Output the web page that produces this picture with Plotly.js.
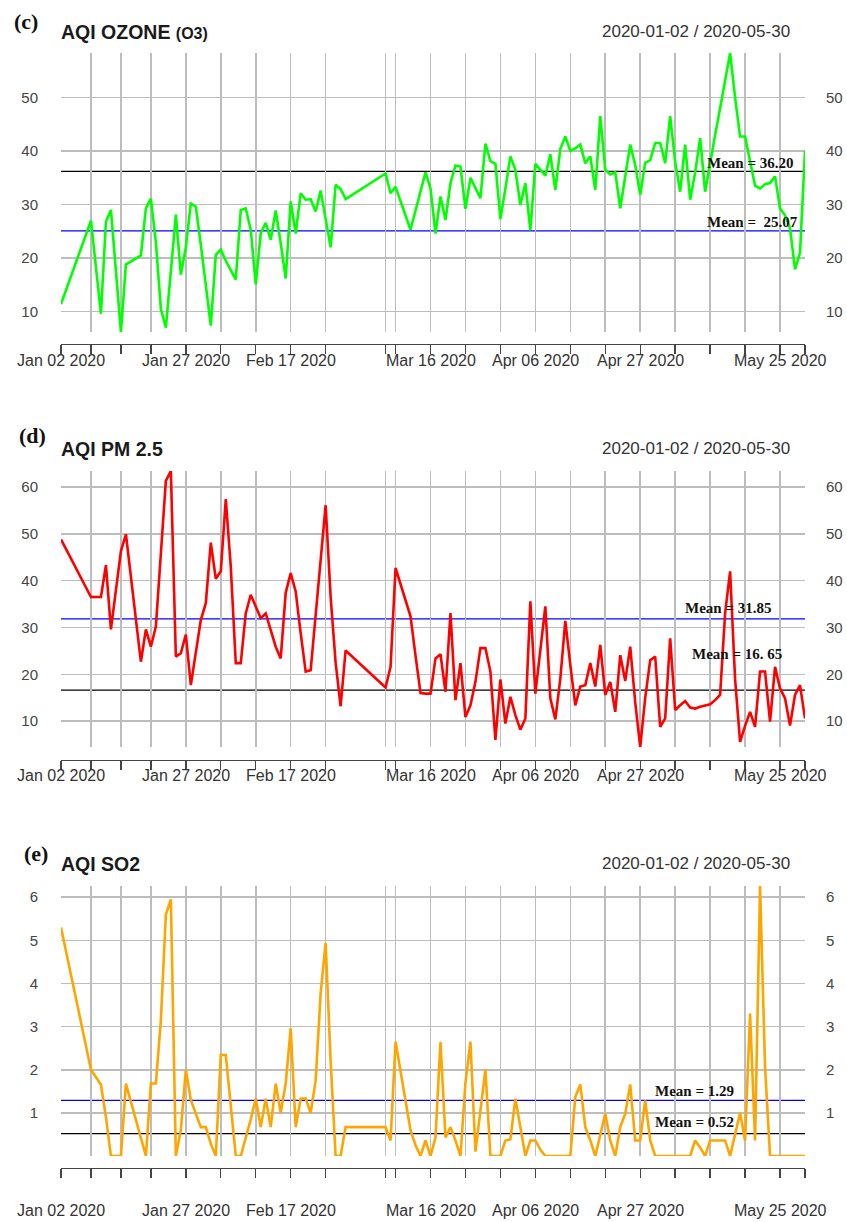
<!DOCTYPE html>
<html><head><meta charset="utf-8">
<script src="https://cdn.plot.ly/plotly-3.0.1.min.js"></script>
<style>html,body{margin:0;padding:0;background:#fff}</style>
</head><body><div id="chart" style="width:847px;height:1222px"></div>
<script>
// ---------------- DATA ----------------
const dates = [
 '2020-01-02','2020-01-08','2020-01-10','2020-01-11','2020-01-12','2020-01-14','2020-01-15',
 '2020-01-18','2020-01-19','2020-01-20','2020-01-21','2020-01-22','2020-01-23','2020-01-24',
 '2020-01-25','2020-01-26','2020-01-27','2020-01-28','2020-01-29','2020-01-30','2020-01-31',
 '2020-02-01','2020-02-02','2020-02-03','2020-02-04','2020-02-05','2020-02-06','2020-02-07',
 '2020-02-08','2020-02-09','2020-02-10','2020-02-11','2020-02-12','2020-02-13','2020-02-14',
 '2020-02-15','2020-02-16','2020-02-17','2020-02-18','2020-02-19','2020-02-20','2020-02-21',
 '2020-02-22','2020-02-23','2020-02-24','2020-02-25','2020-02-26','2020-02-27','2020-02-28',
 '2020-03-07','2020-03-08','2020-03-09',
 '2020-03-12','2020-03-13','2020-03-14','2020-03-15','2020-03-16','2020-03-17','2020-03-18',
 '2020-03-19','2020-03-20','2020-03-21','2020-03-22','2020-03-23','2020-03-24','2020-03-25',
 '2020-03-26','2020-03-27','2020-03-28','2020-03-29','2020-03-30','2020-03-31',
 '2020-04-01','2020-04-02','2020-04-03','2020-04-04','2020-04-05','2020-04-06','2020-04-07',
 '2020-04-08','2020-04-09','2020-04-10','2020-04-11','2020-04-12','2020-04-13','2020-04-14',
 '2020-04-15','2020-04-16','2020-04-17','2020-04-18','2020-04-19','2020-04-20','2020-04-21',
 '2020-04-22','2020-04-23','2020-04-24','2020-04-25','2020-04-26','2020-04-27','2020-04-28',
 '2020-04-29','2020-04-30',
 '2020-05-01','2020-05-02','2020-05-03','2020-05-04','2020-05-05','2020-05-06','2020-05-07',
 '2020-05-08','2020-05-09','2020-05-10','2020-05-11','2020-05-12','2020-05-13','2020-05-14',
 '2020-05-15','2020-05-16','2020-05-17','2020-05-18','2020-05-19','2020-05-20','2020-05-21',
 '2020-05-22','2020-05-23','2020-05-24','2020-05-25','2020-05-26','2020-05-27','2020-05-28',
 '2020-05-29','2020-05-30'
];

const ozone = [
 11.4,27.0,9.6,26.8,29.0,6.2,18.8,20.5,29.3,31.1,23,10.5,7.0,18,28.1,16.9,22,30.2,29.6,22.5,15,
 7.4,20.6,21.6,19.5,17.8,16.0,29.0,29.3,25.3,15.1,24.6,26.6,23.4,28.9,22.8,16.2,30.6,24.6,32.1,30.9,31.0,28.7,32.6,27.1,22.0,33.7,32.9,31.0,
 35.8,32.1,33.3,25.3,29,32.5,36,33,24.6,31.5,27.1,34,37.3,37.1,29.2,35,33,31.2,41.4,38.1,37.6,27.3,33,
 39,36.5,29.9,34,25.2,37.6,36.5,35.4,39.4,32.7,40.4,42.7,40,40.5,41.2,37.7,39,32.7,46.5,36.5,35.6,36,29.3,35,41.2,37.4,31.8,37.8,38.3,41.5,
 41.5,37.7,46.5,38,32.4,41.2,30.9,36,42.4,32.4,38,43,48,53,58.3,50,42.7,42.7,38.2,33.5,33,33.8,34,35.3,29.3,28,25.6,17.9,21,40
];

const pm25 = [
 48.8,36.5,36.5,43.3,29.6,46.3,49.9,22.7,29.6,25.9,30.2,45.9,61.3,63.4,23.8,24.5,28.5,17.7,24.5,31.6,35.2,
 48.1,40.4,42,57.4,43,22.4,22.4,33,37,34.5,32,33,29.5,25.9,23.4,37.4,41.6,37.7,28.8,20.6,20.9,32.4,43,56.1,36.5,22.5,13.2,25.1,
 17.2,21.6,42.7,32.4,24,16,15.9,15.9,23.4,24.3,16.3,33.1,14.5,22.4,10.9,13.4,18.4,25.6,25.6,20.6,6,18.9,9.5,
 15.2,11.3,8.2,10.6,35.6,15.9,24.9,34.5,14.9,10.4,19.1,31.4,22,13.4,17.4,17.7,22.4,17.4,26.3,15.6,18.4,12,24.1,18.6,25.9,14,4.5,15,23,23.8,
 8.8,10.6,27.7,12.4,13.4,14.3,12.9,12.7,13.1,13.3,13.6,14.5,15.6,33,42,19,5.6,9,12,8.8,20.6,20.6,9.9,21.6,17,14.9,9.1,15.6,17.7,10.6
];

const so2 = [
 5.3,2.0,1.65,0.9,0,0,1.68,0.4,0,1.68,1.68,3.15,5.6,5.95,0,0.6,2.0,1.3,1.0,0.67,0.67,
 0.28,0,2.34,2.34,1.2,0,0,0.4,0.85,1.33,0.67,1.33,0.67,1.68,1.0,1.68,2.96,0.67,1.33,1.33,1.0,1.75,3.77,4.94,2.2,0,0,0.67,
 0.67,0.36,2.65,0.6,0.25,0,0.36,0,0.43,2.65,0.43,0.67,0.36,0,1.7,2.65,0.1,1.05,2.0,0,0,0,0.36,
 0.39,1.33,0.67,0,0.36,0.36,0.15,0,0,0,0,0,0,1.37,1.66,0.67,0.36,0,0.5,0.98,0.36,0,0.67,0.98,1.66,0.36,0.36,1.29,0.36,0,
 0,0,0,0,0,0,0,0.36,0.2,0,0.36,0.36,0.36,0.36,0,0.5,1.0,0.36,3.3,0.36,6.26,2.06,0,0,0,0,0,0,0,0
];

const gridDates = ['2020-01-02','2020-01-08','2020-01-14','2020-01-20','2020-01-27','2020-02-03','2020-02-10',
 '2020-02-17','2020-02-24','2020-03-07','2020-03-09','2020-03-16','2020-03-23','2020-03-30','2020-04-06',
 '2020-04-13','2020-04-20','2020-04-27','2020-05-04','2020-05-11','2020-05-18','2020-05-25','2020-05-30'];
const gridLabels = ['Jan 02 2020','','','','Jan 27 2020','','','Feb 17 2020','','','','Mar 16 2020','','',
 'Apr 06 2020','','','Apr 27 2020','','','','May 25 2020',''];

const ozoneTicks = [10,20,30,40,50];
const pm25Ticks = [10,20,30,40,50,60];
const so2Ticks = [1,2,3,4,5,6];

const ozoneMeans = [36.20, 25.07];
const pm25Means = [31.85, 16.65];
const so2Means = [1.29, 0.52];
const ozoneMeanLabels = ['Mean = 36.20', 'Mean =&nbsp; 25.07'];
const pm25MeanLabels = ['Mean = 31.85', 'Mean = 16. 65'];
const so2MeanLabels = ['Mean = 1.29', 'Mean = 0.52'];

const panelLetters = ['(c)', '(d)', '(e)'];
const panelTitles = ['AQI OZONE <span style="font-size:16px">(O3)</span>', 'AQI PM 2.5', 'AQI SO2'];
const periodText = '2020-01-02 / 2020-05-30';

// ---------------- LAYOUT HELPERS ----------------
const H = 1222, L = 61, R = 805;
const py = p => (H - p) / H;
const pxx = p => (p - L) / (R - L);
const SANS = 'Liberation Sans, Arial, sans-serif';
const SERIF = 'Liberation Serif, Times New Roman, serif';
const GRID = '#bdbdbd';

const panels = [
 {values: ozone, ticks: ozoneTicks, color: '#00ff00', top: 53, bottom: 332, axisY: 344, labelY: 360,
  means: ozoneMeans, meanColors: ['#000000', '#0000ff'], meanLabels: ozoneMeanLabels,
  meanPos: [[750, 163], [752, 222]], letterPos: [12, 22], titleY: 32, periodY: 31, minorY: 337},
 {values: pm25, ticks: pm25Ticks, color: '#ff0000', top: 471, bottom: 747, axisY: 760, labelY: 775,
  means: pm25Means, meanColors: ['#0000ff', '#000000'], meanLabels: pm25MeanLabels,
  meanPos: [[728, 608], [737, 654]], letterPos: [17, 436], titleY: 448.5, periodY: 448.5, minorY: 752},
 {values: so2, ticks: so2Ticks, color: '#ffa500', top: 886, bottom: 1156, axisY: 1168, labelY: 1210,
  means: so2Means, meanColors: ['#0000ff', '#000000'], meanLabels: so2MeanLabels,
  meanPos: [[694, 1091], [694, 1122]], letterPos: [22, 853], titleY: 863.5, periodY: 863.5, minorY: 1162}
];

const traces = [];
const layout = {
 width: 847, height: 1222, margin: {l: L, r: 847 - R, t: 0, b: 0},
 paper_bgcolor: '#fff', plot_bgcolor: '#fff', showlegend: false,
 font: {family: SANS, color: '#333'},
 shapes: [], annotations: []
};

panels.forEach((p, i) => {
 const n = i + 1;
 const xa = n === 1 ? 'x' : 'x' + n;
 const ya = n === 1 ? 'y' : 'y' + n;
 const yr = 'y' + (n + 3);
 const lo = Math.min(...p.values), hi = Math.max(...p.values);
 const dom = [py(p.bottom), py(p.top)];
 const pxPerUnit = (p.bottom - p.top) / (hi - lo);

 layout['xaxis' + (n === 1 ? '' : n)] = {
  type: 'date', range: [dates[0], dates[dates.length - 1]], domain: [0, 1],
  anchor: 'free', position: py(p.axisY),
  tickmode: 'array', tickvals: gridDates, ticktext: gridDates.map(() => ''),
  showgrid: true, gridcolor: GRID, gridwidth: 1.6,
  ticks: 'outside', ticklen: 9, tickwidth: 1.4, tickcolor: '#444',
  showline: true, linecolor: '#444', linewidth: 1.4,
  showticklabels: false, zeroline: false, fixedrange: true
 };
 layout['yaxis' + (n === 1 ? '' : n)] = {
  domain: dom, range: [lo, hi], anchor: xa, side: 'left',
  tickmode: 'array', tickvals: p.ticks, showgrid: true, gridcolor: GRID, gridwidth: 1.6,
  ticks: '', showline: false, zeroline: false, ticklabelstandoff: 22,
  tickfont: {size: 15, color: '#444', family: SANS}, fixedrange: true
 };
 layout['yaxis' + (n + 3)] = {
  overlaying: ya, anchor: xa, side: 'right', range: [lo, hi],
  tickmode: 'array', tickvals: p.ticks, showgrid: false, ticks: '', showline: false,
  zeroline: false, ticklabelstandoff: 20,
  tickfont: {size: 15, color: '#444', family: SANS}, fixedrange: true
 };

 // observation tick marks below the panel
 traces.push({
  type: 'scatter', mode: 'markers', x: dates,
  y: dates.map(() => lo - (p.minorY - p.bottom) / pxPerUnit),
  xaxis: xa, yaxis: yr, cliponaxis: false, hoverinfo: 'skip',
  marker: {symbol: 'line-ns-open', size: 5, line: {color: '#d4d4d4', width: 1}}
 });
 // data line
 traces.push({
  type: 'scatter', mode: 'lines', x: dates, y: p.values, xaxis: xa, yaxis: ya,
  line: {color: p.color, width: 2.6}, hoverinfo: 'skip'
 });

 // date tick labels (only some of the grid dates carry text)
 gridDates.forEach((d, k) => {
  if (!gridLabels[k]) return;
  layout.annotations.push({xref: xa, yref: 'paper', x: d, y: py(p.labelY),
   xanchor: 'center', yanchor: 'middle', showarrow: false, text: gridLabels[k],
   font: {family: SANS, size: 16, color: '#333'}});
 });

 // mean lines
 p.means.forEach((m, k) => {
  layout.shapes.push({type: 'line', xref: xa, yref: ya, x0: dates[0], x1: dates[dates.length - 1],
   y0: m, y1: m, layer: 'below', line: {color: p.meanColors[k], width: 1.3}});
  layout.annotations.push({xref: 'paper', yref: 'paper', x: pxx(p.meanPos[k][0]), y: py(p.meanPos[k][1]),
   xanchor: 'center', yanchor: 'middle', showarrow: false, text: '<b>' + p.meanLabels[k] + '</b>',
   font: {family: SERIF, size: 15, color: '#111'}});
 });

 // letters, titles, period
 layout.annotations.push({xref: 'paper', yref: 'paper', x: pxx(p.letterPos[0]), y: py(p.letterPos[1]),
  xanchor: 'left', yanchor: 'middle', showarrow: false, text: '<b>' + panelLetters[i] + '</b>',
  font: {family: SERIF, size: 22, color: '#111'}});
 layout.annotations.push({xref: 'paper', yref: 'paper', x: pxx(59), y: py(p.titleY),
  xanchor: 'left', yanchor: 'middle', showarrow: false, text: '<b>' + panelTitles[i] + '</b>',
  font: {family: SANS, size: 19.5, color: '#1a1a1a'}});
 layout.annotations.push({xref: 'paper', yref: 'paper', x: pxx(792), y: py(p.periodY),
  xanchor: 'right', yanchor: 'middle', showarrow: false, text: periodText,
  font: {family: SANS, size: 17, color: '#333'}});
});

// white gap under the "Mean = 25.07" label (blue line interrupted in the original)
layout.shapes.push({type: 'line', xref: 'x domain', yref: 'y', x0: pxx(702), x1: pxx(783),
 y0: ozoneMeans[1], y1: ozoneMeans[1], layer: 'below', line: {color: '#ffffff', width: 3}});

Plotly.newPlot('chart', traces, layout, {staticPlot: true, displayModeBar: false});
</script></body></html>
